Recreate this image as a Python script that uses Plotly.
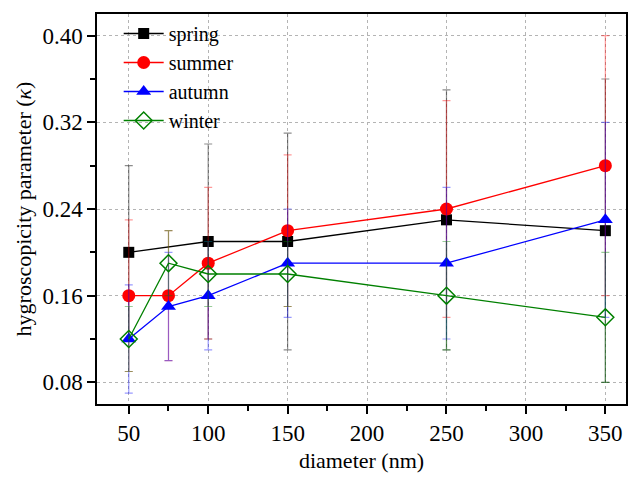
import plotly.graph_objects as go

# Particle diameters (nm)
diam_all = [50, 75, 100, 150, 250, 350]
diam_spring = [50, 100, 150, 250, 350]

# Hygroscopicity parameter kappa and its standard deviation per season
spring = [0.20, 0.21, 0.21, 0.23, 0.22]
spring_err = [0.08, 0.09, 0.10, 0.12, 0.14]

summer = [0.16, 0.16, 0.19, 0.22, 0.24, 0.28]
summer_err = [0.07, 0.06, 0.07, 0.07, 0.10, 0.12]

autumn = [0.12, 0.15, 0.16, 0.19, 0.19, 0.23]
autumn_err = [0.05, 0.05, 0.05, 0.05, 0.07, 0.09]

winter = [0.12, 0.19, 0.18, 0.18, 0.16, 0.14]
winter_err = [0.03, 0.03, 0.03, 0.03, 0.05, 0.06]

y_ticks = [0.08, 0.16, 0.24, 0.32, 0.40]
x_ticks = [50, 100, 150, 200, 250, 300, 350]

FONT = "'Liberation Serif', 'Times New Roman', Times, serif"

series = [
    ("spring", diam_spring, spring, spring_err, "#000000", "rgba(0,0,0,0.45)",
     dict(symbol="square", size=11, color="#000000")),
    ("summer", diam_all, summer, summer_err, "#ff0000", "rgba(255,0,0,0.4)",
     dict(symbol="circle", size=13, color="#ff0000")),
    ("autumn", diam_all, autumn, autumn_err, "#0000ff", "rgba(0,0,255,0.4)",
     dict(symbol="triangle-up", size=13, color="#0000ff")),
    ("winter", diam_all, winter, winter_err, "#008000", "rgba(0,128,0,0.4)",
     dict(symbol="diamond-open", size=13, color="#008000",
          line=dict(width=1.5, color="#008000"))),
]

fig = go.Figure()
for name, xs, ys, errs, col, ecol, mk in series:
    fig.add_trace(go.Scatter(
        x=xs, y=ys, name=name, mode="lines+markers",
        line=dict(color=col, width=1.3),
        marker=mk,
        error_y=dict(type="data", array=errs, visible=True,
                     color=ecol, thickness=1.2, width=4),
    ))

axis_common = dict(
    showline=True, mirror=True, linecolor="black", linewidth=1.5,
    ticks="outside", ticklen=8, tickwidth=1.5, tickcolor="black",
    showgrid=True, gridcolor="#b4b4b4", griddash="dot", gridwidth=1,
    zeroline=False,
    tickfont=dict(family=FONT, size=23, color="black"),
)

fig.update_xaxes(
    range=[30, 363], tickvals=x_ticks,
    minor=dict(ticks="outside", ticklen=5, tickwidth=1.5, tickcolor="black",
               dtick=25, tick0=0, showgrid=False),
    title=dict(text="diameter (nm)", font=dict(family=FONT, size=22, color="black"),
               standoff=7),
    **axis_common,
)
fig.update_yaxes(
    range=[0.06, 0.42], tickvals=y_ticks, tickformat=".2f",
    minor=dict(ticks="outside", ticklen=5, tickwidth=1.5, tickcolor="black",
               dtick=0.04, tick0=0, showgrid=False),
    title=dict(text="hygroscopicity parameter (<i>κ</i>)",
               font=dict(family=FONT, size=22, color="black"), standoff=5),
    **axis_common,
)

fig.update_layout(
    width=630, height=479,
    margin=dict(l=97, r=2, t=14, b=75),
    paper_bgcolor="white", plot_bgcolor="white",
    showlegend=True,
    legend=dict(x=0.041, y=1.0, xanchor="left", yanchor="top",
                bgcolor="rgba(0,0,0,0)",
                font=dict(family=FONT, size=20, color="black"),
                tracegroupgap=0, itemwidth=40),
)

fig.write_html("out.html")
